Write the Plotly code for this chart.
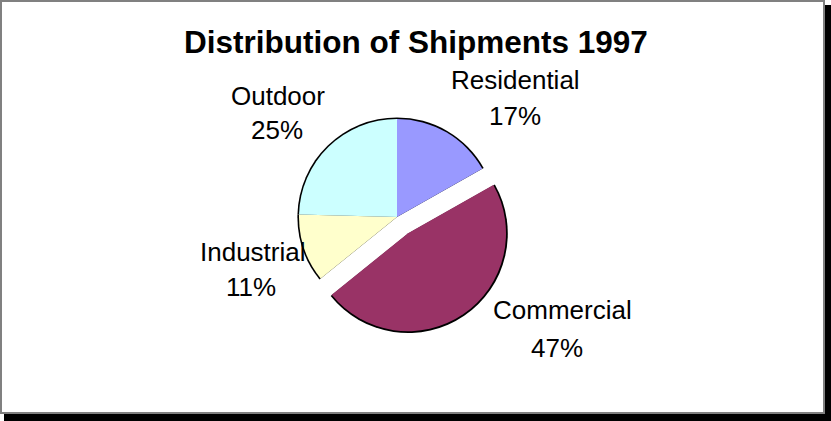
import plotly.graph_objects as go

# ---- data ----
categories = ["Residential", "Commercial", "Industrial", "Outdoor"]
values = [16.8, 47.4, 11.2, 24.6]
colors = ["#9999FF", "#993366", "#FFFFCC", "#CCFFFF"]
pulls = [0, 0.2, 0, 0]
title_text = "Distribution of Shipments 1997"

W, H = 831, 421
FONT = "Arial, Liberation Sans, sans-serif"

def fx(px):
    return px / W

def fy(py):
    return 1 - py / H

# pie geometry (pixels)
cx, cy, r = 397, 217, 98
maxpull = max(pulls)

def domain(radius):
    half = radius * (1 + maxpull)
    return dict(x=[fx(cx - half), fx(cx + half)], y=[fy(cy + half), fy(cy - half)])

fig = go.Figure()
# black underlay gives the outer arc outline only
fig.add_trace(go.Pie(
    labels=categories, values=values, sort=False, direction="clockwise", rotation=0,
    pull=pulls, marker=dict(colors=["#000000"] * len(values), line=dict(width=0)),
    textinfo="none", hoverinfo="skip", showlegend=False, domain=domain(r + 1.6),
))
fig.add_trace(go.Pie(
    labels=categories, values=values, sort=False, direction="clockwise", rotation=0,
    pull=pulls, marker=dict(colors=colors, line=dict(width=0)),
    textinfo="none", hoverinfo="skip", showlegend=False, domain=domain(r),
))

total = sum(values)
pct = [f"{round(v / total * 100)}%" for v in values]

# label positions (pixels): name center, percent center
label_pos = {
    "Residential": ((515, 80), (515, 116)),
    "Commercial": ((562, 310), (557, 348)),
    "Industrial": ((253, 252), (251, 287)),
    "Outdoor": ((278, 96), (277, 130)),
}

annotations = []
for cat, p in zip(categories, pct):
    (nx, ny), (px_, py_) = label_pos[cat]
    annotations.append(dict(x=fx(nx), y=fy(ny), xref="paper", yref="paper", text=cat,
                            showarrow=False, xanchor="center", yanchor="middle",
                            font=dict(family=FONT, size=26, color="black")))
    annotations.append(dict(x=fx(px_), y=fy(py_), xref="paper", yref="paper", text=p,
                            showarrow=False, xanchor="center", yanchor="middle",
                            font=dict(family=FONT, size=26, color="black")))

annotations.append(dict(x=fx(416), y=fy(42), xref="paper", yref="paper",
                        text=f"<b>{title_text}</b>", showarrow=False,
                        xanchor="center", yanchor="middle",
                        font=dict(family=FONT, size=31.5, color="black")))

shapes = [
    dict(type="rect", xref="paper", yref="paper", x0=fx(4), x1=fx(831), y0=fy(421), y1=fy(5),
         fillcolor="black", line=dict(width=0), layer="below"),
    dict(type="rect", xref="paper", yref="paper", x0=fx(1), x1=fx(824), y0=fy(413), y1=fy(1),
         fillcolor="white", line=dict(color="#808080", width=2), layer="below"),
]

fig.update_layout(
    width=W, height=H, margin=dict(l=0, r=0, t=0, b=0),
    paper_bgcolor="white", plot_bgcolor="white",
    annotations=annotations, shapes=shapes, showlegend=False,
)

fig.write_html("out.html", config={"displayModeBar": False},
               post_script="document.body.style.margin='0';document.body.style.overflow='hidden';")
